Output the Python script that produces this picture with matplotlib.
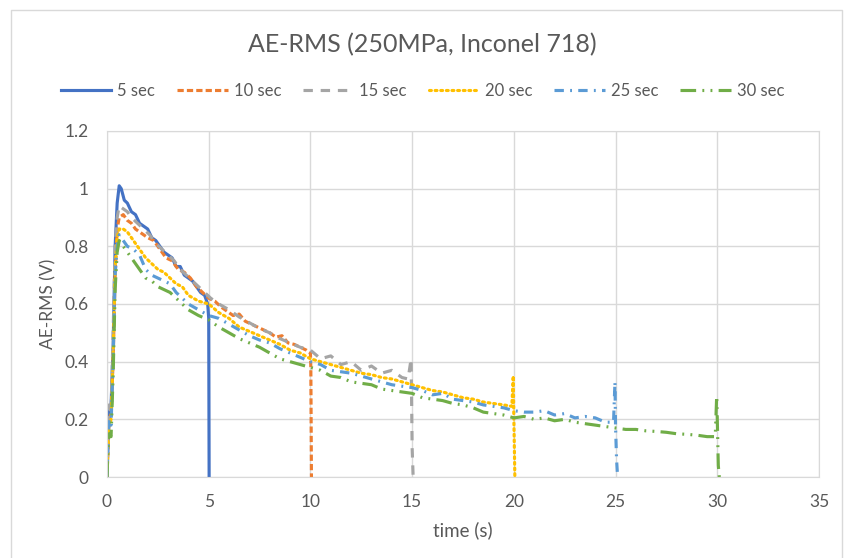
import matplotlib
matplotlib.use("Agg")
import matplotlib.pyplot as plt
from matplotlib.lines import Line2D

# ---- data (time in s, AE-RMS in V) ----
T5 = [0, 0.05, 0.1, 0.2, 0.3, 0.4, 0.5, 0.6, 0.7, 0.85, 1.0, 1.2, 1.4, 1.6, 1.8, 2.0,
      2.2, 2.4, 2.6, 2.8, 3.0, 3.2, 3.4, 3.6, 3.8, 4.0, 4.2, 4.4, 4.6, 4.8, 4.95, 5.0, 5.02]
V5 = [0, 0.12, 0.22, 0.25, 0.45, 0.8, 0.95, 1.01, 1.0, 0.96, 0.95, 0.92, 0.91, 0.88, 0.87, 0.86,
      0.83, 0.82, 0.80, 0.78, 0.77, 0.76, 0.73, 0.73, 0.70, 0.69, 0.68, 0.66, 0.64, 0.63, 0.60, 0.55, 0.0]

T10 = [0, 0.05, 0.1, 0.2, 0.3, 0.4, 0.5, 0.6, 0.8, 1.0, 1.2, 1.4, 1.6, 1.8, 2.0, 2.3, 2.6, 2.9,
       3.2, 3.5, 3.8, 4.1, 4.4, 4.7, 5.0, 5.3, 5.6, 5.9, 6.2, 6.5, 6.8, 7.1, 7.4, 7.7, 8.0, 8.3,
       8.6, 8.9, 9.2, 9.5, 9.8, 10.0, 10.02, 10.05]
V10 = [0, 0.1, 0.2, 0.22, 0.4, 0.7, 0.86, 0.9, 0.91, 0.89, 0.88, 0.86, 0.85, 0.84, 0.83, 0.82, 0.79, 0.76,
       0.75, 0.72, 0.71, 0.69, 0.66, 0.64, 0.62, 0.61, 0.59, 0.575, 0.56, 0.565, 0.54, 0.53, 0.52, 0.51, 0.50, 0.485,
       0.49, 0.465, 0.46, 0.45, 0.44, 0.43, 0.38, 0.0]

T15 = [0, 0.05, 0.1, 0.2, 0.3, 0.4, 0.5, 0.6, 0.8, 1.0, 1.2, 1.5, 1.8, 2.1, 2.4, 2.7, 3.0, 3.3,
       3.6, 3.9, 4.2, 4.5, 4.8, 5.1, 5.5, 6.0, 6.5, 7.0, 7.5, 8.0, 8.5, 9.0, 9.5, 10.0, 10.5, 11.0,
       11.5, 12.0, 12.5, 13.0, 13.5, 14.0, 14.5, 14.8, 14.95, 15.0, 15.05]
V15 = [0, 0.15, 0.25, 0.22, 0.5, 0.8, 0.9, 0.94, 0.93, 0.92, 0.9, 0.88, 0.86, 0.84, 0.81, 0.79, 0.77, 0.75,
       0.72, 0.70, 0.68, 0.66, 0.64, 0.62, 0.60, 0.58, 0.555, 0.535, 0.515, 0.50, 0.48, 0.465, 0.45, 0.44, 0.41, 0.42,
       0.39, 0.40, 0.37, 0.385, 0.36, 0.37, 0.345, 0.34, 0.41, 0.1, 0.0]

T20 = [0, 0.05, 0.1, 0.2, 0.3, 0.4, 0.5, 0.6, 0.8, 1.0, 1.3, 1.6, 1.9, 2.2, 2.5, 2.8, 3.1, 3.4,
       3.7, 4.0, 4.5, 5.0, 5.5, 6.0, 6.5, 7.0, 7.5, 8.0, 8.5, 9.0, 9.5, 10.0, 10.5, 11.0, 11.5, 12.0,
       12.5, 13.0, 13.5, 14.0, 14.5, 15.0, 15.5, 16.0, 16.5, 17.0, 17.5, 18.0, 18.5, 19.0, 19.5, 19.9,
       19.97, 20.0, 20.05]
V20 = [0, 0.1, 0.18, 0.2, 0.42, 0.72, 0.83, 0.86, 0.86, 0.85, 0.82, 0.79, 0.76, 0.74, 0.72, 0.71, 0.69, 0.67,
       0.66, 0.63, 0.61, 0.60, 0.57, 0.55, 0.52, 0.505, 0.49, 0.475, 0.46, 0.44, 0.43, 0.41, 0.40, 0.39, 0.38, 0.37,
       0.36, 0.355, 0.345, 0.34, 0.33, 0.32, 0.31, 0.30, 0.295, 0.285, 0.275, 0.27, 0.26, 0.255, 0.25, 0.245,
       0.35, 0.2, 0.0]

T25 = [0, 0.05, 0.1, 0.2, 0.3, 0.4, 0.5, 0.6, 0.8, 1.0, 1.3, 1.6, 1.9, 2.2, 2.5, 2.8, 3.1, 3.4,
       3.7, 4.0, 4.5, 5.0, 5.5, 6.0, 6.5, 7.0, 7.5, 8.0, 8.5, 9.0, 9.5, 10.0, 10.5, 11.0, 11.5, 12.0,
       12.5, 13.0, 13.5, 14.0, 14.5, 15.0, 15.5, 16.0, 16.5, 17.0, 17.5, 18.0, 18.5, 19.0, 19.5, 20.0,
       20.5, 21.0, 21.5, 22.0, 22.5, 23.0, 23.5, 24.0, 24.5, 24.9, 24.97, 25.0, 25.05, 25.1]
V25 = [0, 0.12, 0.2, 0.18, 0.4, 0.7, 0.8, 0.84, 0.82, 0.80, 0.79, 0.77, 0.72, 0.70, 0.69, 0.68, 0.67, 0.64,
       0.62, 0.60, 0.58, 0.56, 0.55, 0.53, 0.51, 0.49, 0.475, 0.465, 0.445, 0.43, 0.415, 0.40, 0.39, 0.37, 0.365, 0.36,
       0.35, 0.34, 0.33, 0.32, 0.315, 0.31, 0.30, 0.285, 0.29, 0.27, 0.265, 0.26, 0.25, 0.245, 0.24, 0.23,
       0.225, 0.225, 0.23, 0.215, 0.22, 0.205, 0.21, 0.205, 0.19, 0.19, 0.33, 0.17, 0.06, 0.0]

T30 = [0, 0.05, 0.1, 0.2, 0.3, 0.4, 0.5, 0.6, 0.8, 1.0, 1.3, 1.6, 1.9, 2.2, 2.5, 2.8, 3.1, 3.4,
       3.7, 4.0, 4.5, 5.0, 5.5, 6.0, 6.5, 7.0, 7.5, 8.0, 8.5, 9.0, 9.5, 10.0, 10.5, 11.0, 11.5, 12.0,
       12.5, 13.0, 13.5, 14.0, 14.5, 15.0, 15.5, 16.0, 16.5, 17.0, 17.5, 18.0, 18.5, 19.0, 19.5, 20.0,
       20.5, 21.0, 21.5, 22.0, 22.5, 23.0, 23.5, 24.0, 24.5, 25.0, 25.5, 26.0, 26.5, 27.0, 27.5, 28.0,
       28.5, 29.0, 29.5, 29.9, 29.97, 30.0, 30.05, 30.1]
V30 = [0, 0.1, 0.15, 0.14, 0.35, 0.65, 0.78, 0.82, 0.80, 0.78, 0.75, 0.72, 0.69, 0.68, 0.66, 0.65, 0.64, 0.62,
       0.60, 0.58, 0.56, 0.545, 0.52, 0.50, 0.48, 0.465, 0.45, 0.43, 0.41, 0.40, 0.39, 0.38, 0.37, 0.35, 0.345, 0.33,
       0.325, 0.32, 0.305, 0.30, 0.295, 0.29, 0.275, 0.27, 0.265, 0.255, 0.25, 0.24, 0.225, 0.22, 0.215, 0.205,
       0.21, 0.2, 0.205, 0.195, 0.2, 0.19, 0.185, 0.18, 0.175, 0.17, 0.165, 0.165, 0.16, 0.158, 0.155, 0.15,
       0.148, 0.145, 0.14, 0.14, 0.28, 0.2, 0.04, 0.0]

LABELS = ["5 sec", "10 sec", "15 sec", "20 sec", "25 sec", "30 sec"]
COLORS = ["#4472C4", "#ED7D31", "#A5A5A5", "#FFC000", "#5B9BD5", "#70AD47"]
STYLES = ["-", (0, (2, 1)), (0, (3, 2.5)), (0, (0.6, 1.2)), (0, (3, 2, 0.6, 2)),
          (0, (5, 2, 0.6, 2, 0.6, 2))]

TXT = "#595959"
GRID = "#D9D9D9"
plt.rcParams["font.family"] = ["Lato", "DejaVu Sans"]

fig = plt.figure(figsize=(8.45, 5.58), dpi=100)
ax = fig.add_axes([107 / 845, 81 / 558, 712 / 845, 346 / 558])

series = [(T5, V5), (T10, V10), (T15, V15), (T20, V20), (T25, V25), (T30, V30)]
handles = []
for (t, v), lab, c, ls in zip(series, LABELS, COLORS, STYLES):
    ln, = ax.plot(t, v, color=c, ls=ls, lw=2.25, label=lab,
                  dash_capstyle="round" if ls == STYLES[3] else "butt")
    handles.append(ln)

ax.set_xlim(0, 35)
ax.set_ylim(0, 1.2)
ax.set_xticks(range(0, 36, 5))
ax.set_yticks([0, 0.2, 0.4, 0.6, 0.8, 1.0, 1.2])
ax.set_yticklabels(["0", "0.2", "0.4", "0.6", "0.8", "1", "1.2"])
ax.grid(True, color=GRID, lw=1)
ax.set_axisbelow(True)
for s in ax.spines.values():
    s.set_color(GRID)
ax.tick_params(length=0, labelsize=12.5, labelcolor=TXT)
ax.tick_params(axis="y", pad=13)
ax.tick_params(axis="x", pad=12)
ax.set_xlabel("time (s)", fontsize=13.5, color=TXT, labelpad=8)
ax.set_ylabel("AE-RMS (V)", fontsize=12.5, color=TXT, labelpad=6)

fig.text(0.5, 1 - 45 / 558, "AE-RMS (250MPa, Inconel 718)", ha="center", va="center",
         fontsize=18, color=TXT)
fig.legend(handles=handles, loc="center", bbox_to_anchor=(0.5, 1 - 91 / 558), ncol=6,
           frameon=False, handlelength=3.05, columnspacing=1.3, handletextpad=0.35,
           fontsize=12, labelcolor=TXT)

# chart-area border
fig.add_artist(Line2D([11 / 845, 11 / 845, 842 / 845, 842 / 845],
                      [0, 1 - 10 / 558, 1 - 10 / 558, 0],
                      transform=fig.transFigure, color=GRID, lw=1))

fig.savefig("out.png", dpi=100)
